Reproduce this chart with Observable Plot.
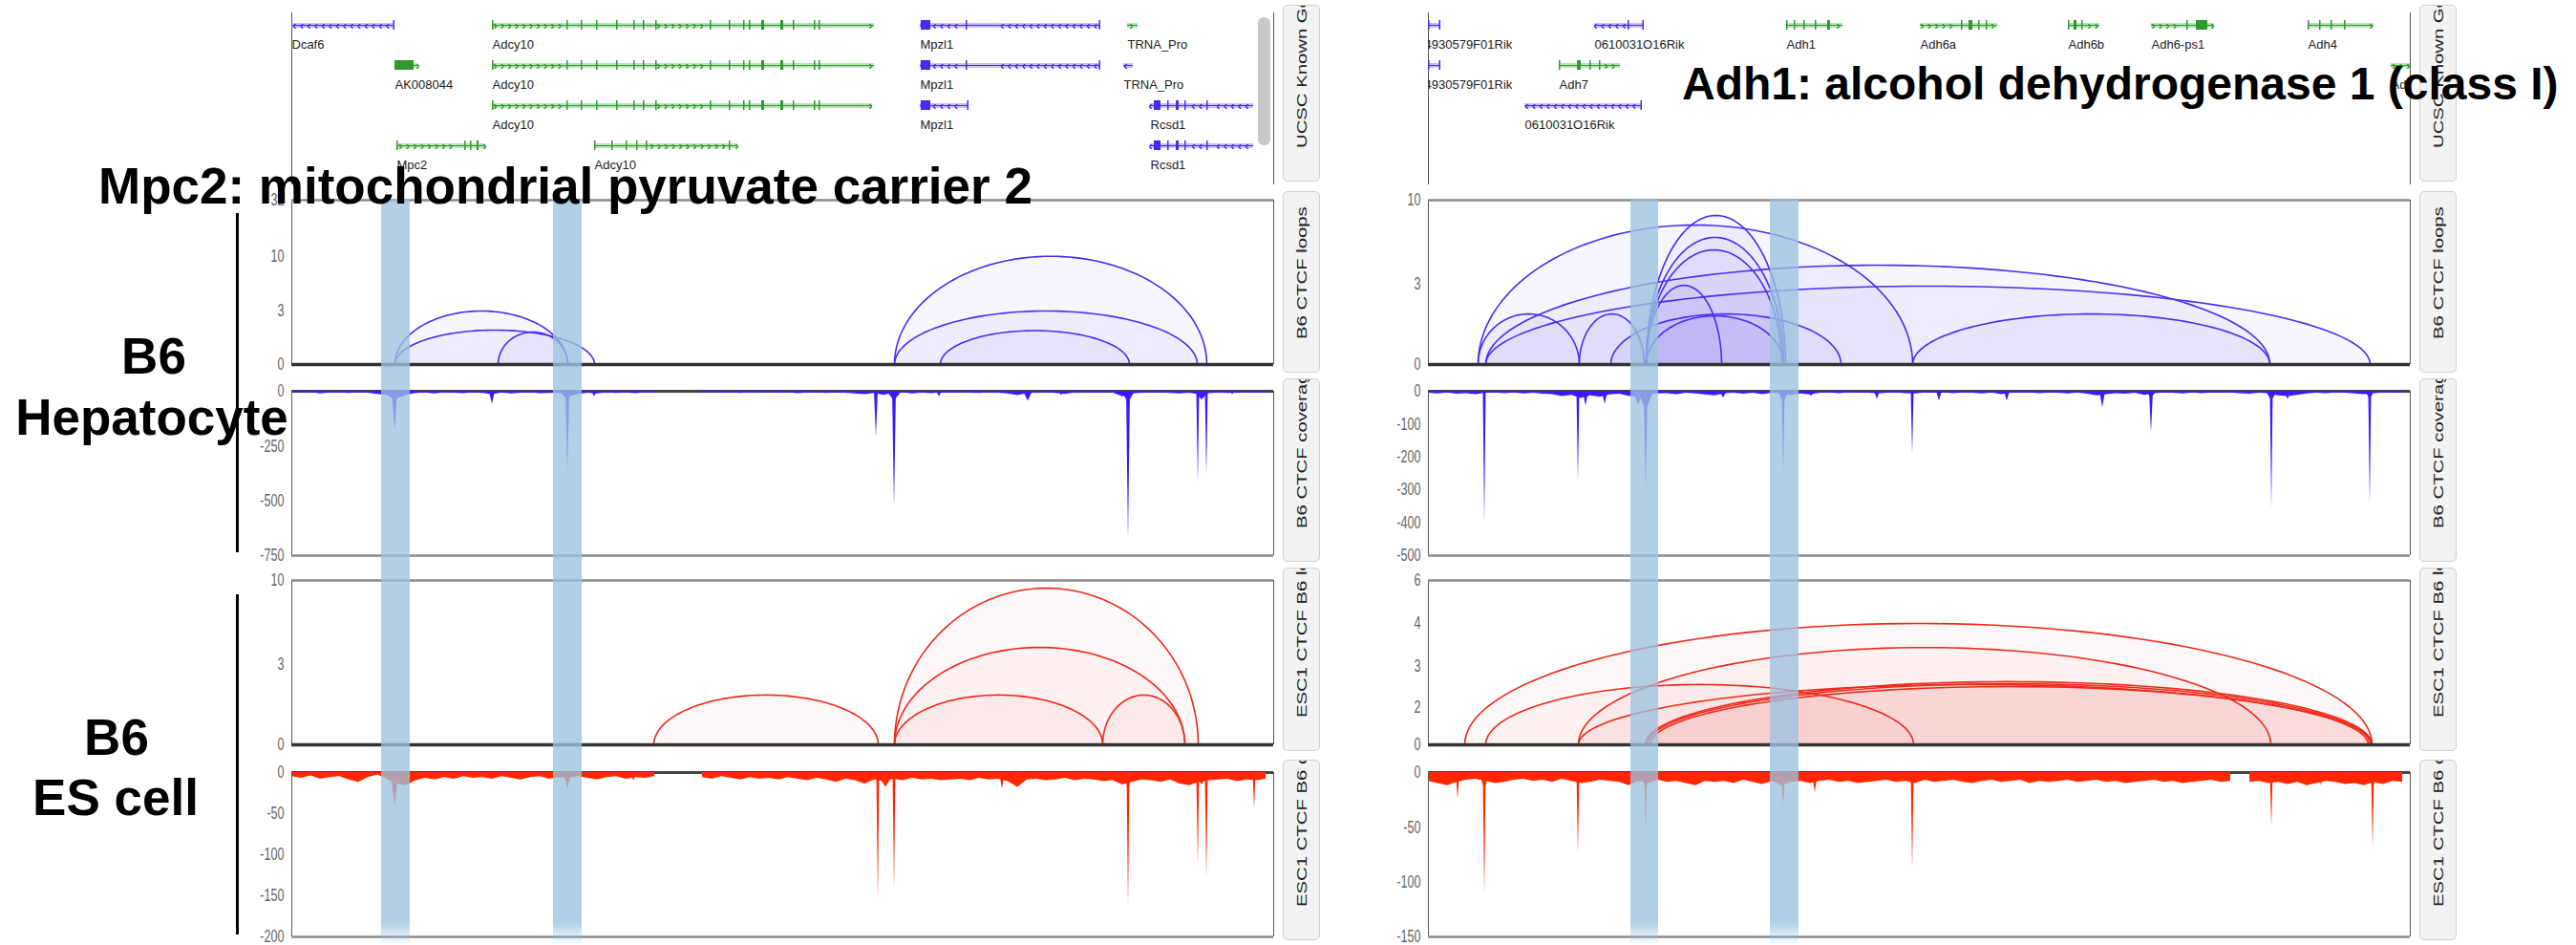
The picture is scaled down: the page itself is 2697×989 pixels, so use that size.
<!DOCTYPE html>
<html>
<head>
<meta charset="utf-8">
<script src="https://cdn.jsdelivr.net/npm/d3@7"></script>
<script src="https://cdn.jsdelivr.net/npm/@observablehq/plot@0.6"></script>
<style>
  html, body { margin: 0; padding: 0; background: #fff; }
  #fig { position: relative; width: 2697px; height: 989px; overflow: hidden; background: #fff;
         font-family: "Liberation Sans", Arial, sans-serif; }
  .tab { position: absolute; width: 37px; background: #f3f3f3; border: 1px solid #d0d0d0;
         border-radius: 5px; overflow: hidden; }
  .tab span { position: absolute; left: 12px; white-space: nowrap; font-size: 14px; line-height: 14px;
              color: #222; transform-origin: 0 0; }
  .bar { position: absolute; width: 3px; background: #000; }
  .thumb { position: absolute; background: #c9c9c9; border-radius: 6px; }
</style>
</head>
<body>
<div id="fig"></div>
<script>
// Window coordinates: each browser view spans 0..W position units.
const W = 1028;

// ---------- gene models ----------
const adcy10Exons = [[210,211.5],[288,289.5],[303,304.5],[319,320.5],[340,341.5],[358,359.5],[368,369.5],[381,382.5],
  [438,439.5],[458,459.5],[473,474.5],[479,480.5],[492,495],[512,515],[525,526.5],[547,548.5],[552,553.5]];
const adcy10Chevrons = [[213,282],[384,432],[606,606]];
const mpzl1Exons = [[659,669],[706,707.5],[845.5,847]];
const mpzl1Chevrons = [[660,660],[673,700],[744,842]];
const rcsd1Exons = [[903,910],[917,918.5],[926,929],[935,936.5],[958,959.5]];
const rcsd1Chevrons = [[899,899],[944,952],[970,1005]];

const leftGenes = [
  {name: "Dcaf6", start: 0, end: 108, row: 1, strand: "-", exons: [[106.5,108]], chevrons: [[3,102]]},
  {name: "Adcy10", start: 210, end: 610, row: 1, strand: "+", exons: adcy10Exons, chevrons: adcy10Chevrons},
  {name: "Mpzl1", start: 658, end: 847, row: 1, strand: "-", exons: mpzl1Exons, chevrons: mpzl1Chevrons},
  {name: "TRNA_Pro", start: 875, end: 886, row: 1, strand: "+", exons: [], chevrons: [[879,884]]},
  {name: "AK008044", start: 108, end: 132, row: 2, strand: "+", exons: [[108,128]], chevrons: [[132,132]]},
  {name: "Adcy10", start: 210, end: 610, row: 2, strand: "+", exons: adcy10Exons, chevrons: adcy10Chevrons},
  {name: "Mpzl1", start: 658, end: 847, row: 2, strand: "-", exons: mpzl1Exons, chevrons: mpzl1Chevrons},
  {name: "TRNA_Pro", start: 871, end: 881, row: 2, strand: "-", exons: [], chevrons: [[873,877]]},
  {name: "Adcy10", start: 210, end: 608, row: 3, strand: "+", exons: adcy10Exons, chevrons: adcy10Chevrons},
  {name: "Mpzl1", start: 658, end: 709, row: 3, strand: "-", exons: [[659,669],[707.5,709]], chevrons: [[660,660],[673,702]]},
  {name: "Rcsd1", start: 899, end: 1007, row: 3, strand: "-", exons: rcsd1Exons, chevrons: rcsd1Chevrons},
  {name: "Mpc2", start: 110, end: 203, row: 4, strand: "+", exons: [[110,111.5],[181,182.5],[187,188.5],[194,196]], chevrons: [[114,172],[202,202]]},
  {name: "Adcy10", start: 317, end: 467, row: 4, strand: "+", exons: [[317,318.5],[335,336.5],[350,351.5],[361,362.5],[371,372.5],[458,459.5]], chevrons: [[377,452],[466,466]]},
  {name: "Rcsd1", start: 899, end: 1007, row: 4, strand: "-", exons: rcsd1Exons, chevrons: rcsd1Chevrons}
];

// labelAt: where a label starts when the gene begins before the view
const rightGenes = [
  {name: "4930579F01Rik", start: 0, end: 13, labelAt: -4, row: 1, strand: "-", exons: [[0,1.5],[11.5,13]], chevrons: []},
  {name: "0610031O16Rik", start: 174, end: 226, row: 1, strand: "-", exons: [[209,210.5],[224.5,226]], chevrons: [[175,205]]},
  {name: "Adh1", start: 375, end: 434, row: 1, strand: "+", exons: [[375,376.5],[383,384.5],[393,394.5],[405,406.5],[418,421]], chevrons: [[429,433]]},
  {name: "Adh6a", start: 515, end: 596, row: 1, strand: "+", exons: [[558,559.5],[566,570],[576,577.5],[584,585.5]], chevrons: [[517,550],[591,596]]},
  {name: "Adh6b", start: 670, end: 703, row: 1, strand: "+", exons: [[670,671.5],[676,679],[684,685.5]], chevrons: [[692,702]]},
  {name: "Adh6-ps1", start: 757, end: 823, row: 1, strand: "+", exons: [[794,795.5],[804,816]], chevrons: [[759,786],[821,821]]},
  {name: "Adh4", start: 921, end: 990, row: 1, strand: "+", exons: [[921,922.5],[933,934.5],[945,946.5],[959,960.5]], chevrons: [[987,989]]},
  {name: "4930579F01Rik", start: 0, end: 13, labelAt: -4, row: 2, strand: "-", exons: [[0,1.5],[11.5,13]], chevrons: []},
  {name: "Adh7", start: 137, end: 201, row: 2, strand: "+", exons: [[137,138.5],[156,160],[169,170.5],[179,180.5]], chevrons: [[186,200]]},
  {name: "Adh5", start: 1008, end: 1028, row: 2, strand: "+", exons: [], chevrons: [[1011,1026]]},
  {name: "0610031O16Rik", start: 101, end: 224, row: 3, strand: "-", exons: [[222.5,224]], chevrons: [[103,219]]}
];

// ---------- CTCF loops: [anchor1, anchor2, score] ----------
const b6LoopsLeft = [[108,289,3.0],[108,317,1.93],[216,289,1.82],[631,958,10.1],[631,948,3.0],[679,877,1.9]];
const escLoopsLeft = [[379,614,1.86],[631,949,9.36],[631,935,4.43],[631,849,1.86],[849,935,1.86]];
const b6LoopsRight = [[52,507,7.93],[228,374,8.73],[228,372,6.9],[228,370,5.86],[60,881,4.59],[60,986,2.93],
  [52,158,1.89],[158,226,1.89],[228,307,2.96],[191,432,1.89],[228,372,1.82],[507,881,1.89]];
const escLoopsRight = [[38,988,4.0],[60,508,2.56],[157,882,3.44],[157,988,2.56],[227,988,2.63],[229,986,2.58],[232,984,2.51]];

// loop-score axes: tick values and the arc height (px above baseline) each one maps to
const b6LoopTicksLeft = [0, 3, 10, 32];
const b6LoopHeightsLeft = [0, 56, 113, 172];
const escLoopTicksLeft = [0, 3, 10];
const escLoopHeightsLeft = [0, 84, 172];
const b6LoopTicksRight = [0, 3, 10];
const b6LoopHeightsRight = [0, 84, 172];
const escLoopTicksRight = [0, 2, 3, 4, 6];
const escLoopHeightsRight = [0, 39, 82, 127, 172];

// ---------- CTCF coverage (depth per 10-unit bin; null = no data) ----------
const b6NoiseLeft = [6,9,5,12,8,6,10,7,9,14, 20,35,18,10,8,12,6,9,11,7, 10,15,8,12,9,7,11,10,8,25,
  14,9,12,7,10,8,11,6,9,null, null,null,null,8,6,9,7,10,5,8, 6,9,7,11,8,6,10,7,9,12,
  15,10,18,9,7,12,8,11,7,9, 6,8,10,7,9,12,20,11,8,6, 10,14,8,7,9,6,8,25,12,9,
  8,7,10,12,9,15,11,8,10,9, 7,9,8];
const escNoiseLeft = [5,7,4,8,6,5,9,12,6,3, 8,14,16,10,7,9,6,8,5,7, 6,8,5,7,9,6,5,8,6,7,
  5,7,9,6,5,8,6,7,5,null, null,null,null,6,8,5,7,9,6,8, 7,9,6,8,10,7,9,12,8,10,
  14,9,11,8,10,7,9,8,10,9, 8,10,7,9,8,11,18,9,8,10, 9,7,10,8,9,11,10,15,12,9,
  10,12,9,14,16,12,10,9,8,11, 9,10,8];
const b6NoiseRight = [6,8,5,9,7,10,6,5,7,5, 8,6,9,10,16,12,22,14,18,11, 9,15,18,11,8,7,10,6,8,11,
  14,7,6,9,6,10,6,7,12,8, 11,6,5,7,5,6,5,8,6,5, 7,8,5,6,5,7,5,6,8,5,
  10,6,5,5,7,5,6,8,5,9, 14,10,7,9,6,12,7,5,6,8, 5,7,5,6,5,7,9,6,7,14,
  16,12,8,6,7,5,6,8,10,7, 5,6,5];
const escNoiseRight = [8,10,12,9,7,6,8,10,9,7, 6,8,7,9,6,8,10,9,7,8, 9,12,8,10,7,9,8,10,12,8,
  9,8,10,7,9,11,8,12,9,8, 10,8,7,9,8,10,9,8,7,9, 8,10,7,9,8,7,9,10,8,7,
  9,8,7,10,8,9,8,7,9,8, 7,9,8,10,9,8,7,9,8,10, 9,8,7,9,8,null,9,8,10,9,
  11,9,12,10,8,9,11,10,12,9, 11,8,9];

// peaks: [position, depth, half-width]
const b6PeaksLeft = [[108,180,3],[108,45,10],[210,60,3],[289,370,2],[289,40,8],[317,25,3],[612,210,2],
  [631,530,2],[631,45,8],[678,25,3],[771,45,5],[806,20,3],[876,680,2],[876,55,7],[949,415,1.5],[958,385,1.5],[953,40,8],[985,15,3]];
const escPeaksLeft = [[108,41,4],[108,15,10],[289,20,4],[614,154,1.5],[631,140,1.5],[622,18,10],[744,20,3],
  [876,163,1.5],[876,20,6],[949,111,1.5],[958,131,1.5],[953,15,8],[1008,45,1.5],[358,10,4]];
const b6PeaksRight = [[59,399,1.5],[157,274,1.5],[165,45,3],[185,40,3],[228,299,2],[228,60,8],[220,40,6],[372,250,1.5],[372,35,6],
  [507,192,1.5],[606,30,3],[706,50,3],[757,128,2],[757,20,6],[883,358,1.5],[883,30,6],[900,25,4],[986,343,1.5],
  [986,25,5],[309,20,4],[401,15,4],[470,25,3],[535,30,3]];
const escPeaksRight = [[31,24,2],[59,113,1.5],[59,15,6],[157,74,1.5],[157,12,6],[228,54,1.5],[228,15,6],
  [372,30,2],[405,18,3],[507,89,1.5],[507,12,5],[883,50,1.5],[883,12,5],[989,69,1.5],[989,15,5],[935,12,3]];

const b6CovTicksLeft = [0, -250, -500, -750];
const escCovTicksLeft = [0, -50, -100, -150, -200];
const b6CovTicksRight = [0, -100, -200, -300, -400, -500];
const escCovTicksRight = [0, -50, -100, -150];

// highlighted anchor regions
const leftHighlights = [[94,124],[274,304]];
const rightHighlights = [[212,241],[358,388]];

const tabTexts = ["UCSC Known Genes", "B6 CTCF loops", "B6 CTCF coverage", "ESC1 CTCF B6 loops", "ESC1 CTCF B6 coverage"];

// ---------- styling ----------
const B6_ARC = "#4b2cf2", B6_COV = "#3f17ff", ESC_ARC = "#ee2a1a", ESC_COV = "#ff2600";
const GENE_GREEN = "#2f982f", GENE_BLUE = "#4a28f0";
const BAND_GREEN = "#86c886", BAND_BLUE = "#9a8cff";
const plotStyle = {background: "transparent", fontFamily: '"Liberation Sans", Arial, sans-serif', overflow: "visible"};
const FRAME = {width: 1086, marginLeft: 55, marginRight: 3};

function yAxis(ticks, format = d => String(d)) {
  return Plot.axisY({ticks, tickSize: 0, tickPadding: 8, fontSize: 18, color: "#666",
    tickFormat: format, label: null});
}

function geneTrack(genes) {
  const exons = genes.flatMap(g => g.exons.map(([s, e]) => ({s, e, row: g.row, strand: g.strand})));
  const chev = genes.flatMap(g => g.chevrons.flatMap(([a, b]) => {
    const out = [];
    for (let p = a; p <= b + 0.01; p += 7.5) out.push({x: p, row: g.row, strand: g.strand});
    return out;
  }));
  const col = d => d.strand === "+" ? GENE_GREEN : GENE_BLUE;
  return Plot.plot({
    ...FRAME, height: 188, marginTop: 8, marginBottom: 0, style: plotStyle,
    x: {domain: [0, W], axis: null},
    y: {domain: [1, 4], range: [21, 147], axis: null},
    color: {type: "identity"},
    marks: [
      Plot.ruleX([0, W], {stroke: "#555", strokeWidth: 1}),
      Plot.ruleY(genes, {x1: "start", x2: "end", y: "row", stroke: d => d.strand === "+" ? BAND_GREEN : BAND_BLUE,
        strokeWidth: 5, strokeOpacity: 0.55, clip: true}),
      Plot.ruleY(genes, {x1: "start", x2: "end", y: "row", stroke: col, strokeWidth: 1, clip: true}),
      Plot.rect(exons, {x1: "s", x2: "e", y1: d => d.row - 0.12, y2: d => d.row + 0.12, fill: col, clip: true}),
      Plot.text(chev, {x: "x", y: "row", text: d => d.strand === "+" ? "›" : "‹", fill: col,
        fontSize: 13, fontWeight: "bold", clip: true}),
      Plot.text(genes, {x: d => d.labelAt ?? d.start, y: "row", dy: 20, text: "name",
        textAnchor: "start", fontSize: 13, fill: "#222", clip: true, ariaLabel: "gene label"})
    ]
  });
}

// Arcs are half-ellipses; y is the arc height in px above the baseline,
// and the tick labels give the loop score at each height.
function loopTrack(loops, ticks, heights, color, fillOpacity) {
  const H = 187, mt = 9, mb = 6, top = heights[heights.length - 1];
  const hOf = d3.scaleLinear().domain(ticks).range(heights);
  const pts = [];
  loops.forEach(([s, e, score], id) => {
    const c = (s + e) / 2, hw = (e - s) / 2, peak = hOf(score);
    for (let k = 0; k <= 80; k++) {
      const t = Math.PI * k / 80;
      pts.push({id, x: c - hw * Math.cos(t), y: peak * Math.sin(t)});
    }
  });
  return Plot.plot({
    ...FRAME, height: H, marginTop: mt, marginBottom: mb, style: plotStyle,
    x: {domain: [0, W], axis: null},
    y: {domain: [0, top]},
    marks: [
      Plot.areaY(pts, {x: "x", y1: 0, y2: "y", z: "id", fill: color, fillOpacity}),
      Plot.line(pts, {x: "x", y: "y", z: "id", stroke: color, strokeWidth: 1.6}),
      Plot.ruleX([0, W], {stroke: "#5a5a5a", strokeWidth: 1}),
      Plot.ruleY([top], {stroke: "#8a8a8a", strokeWidth: 2.5}),
      Plot.ruleY([0], {stroke: "#333", strokeWidth: 3.5}),
      yAxis(heights, d => String(ticks[heights.indexOf(d)]))
    ]
  });
}

function coverageTrack(noise, peaks, ticks, color) {
  const min = ticks[ticks.length - 1];
  const noiseRows = noise.map((v, i) => ({x: i * 10, y: v == null ? NaN : -v}));
  const peakRows = peaks.flatMap(([p, d, hw], id) => [
    {id, x: p - hw, y: 0}, {id, x: p, y: -d}, {id, x: p + hw, y: 0}]);
  return Plot.plot({
    ...FRAME, height: 187, marginTop: 9, marginBottom: 6, style: plotStyle,
    x: {domain: [0, W], axis: null},
    y: {domain: [min, 0]},
    marks: [
      Plot.ruleY([0], {stroke: "#444", strokeWidth: 3}),
      Plot.areaY(noiseRows, {x: "x", y1: 0, y2: "y", fill: color, clip: true}),
      Plot.areaY(peakRows, {x: "x", y1: 0, y2: "y", z: "id", fill: color, clip: true}),
      Plot.ruleX([0, W], {stroke: "#5a5a5a", strokeWidth: 1}),
      Plot.ruleY([min], {stroke: "#8a8a8a", strokeWidth: 2.5}),
      yAxis(ticks)
    ]
  });
}

function highlightLayer(regions) {
  return Plot.plot({
    ...FRAME, height: 780, marginTop: 0, marginBottom: 0, style: plotStyle,
    x: {domain: [0, W], axis: null},
    marks: [Plot.barX(regions, {x1: d => d[0], x2: d => d[1], fill: "#9ec2de", fillOpacity: 0.78})]
  });
}

// ---------- layout ----------
const fig = document.getElementById("fig");
function place(el, left, top) {
  el.style.position = "absolute";
  el.style.left = left + "px";
  el.style.top = top + "px";
  fig.appendChild(el);
  return el;
}

const panels = [
  {left: 250, genes: leftGenes, highlights: leftHighlights,
   b6Loops: [b6LoopsLeft, b6LoopTicksLeft, b6LoopHeightsLeft], escLoops: [escLoopsLeft, escLoopTicksLeft, escLoopHeightsLeft],
   b6Cov: [b6NoiseLeft, b6PeaksLeft, b6CovTicksLeft], escCov: [escNoiseLeft, escPeaksLeft, escCovTicksLeft]},
  {left: 1440, genes: rightGenes, highlights: rightHighlights,
   b6Loops: [b6LoopsRight, b6LoopTicksRight, b6LoopHeightsRight], escLoops: [escLoopsRight, escLoopTicksRight, escLoopHeightsRight],
   b6Cov: [b6NoiseRight, b6PeaksRight, b6CovTicksRight], escCov: [escNoiseRight, escPeaksRight, escCovTicksRight]}
];

for (const p of panels) {
  place(geneTrack(p.genes), p.left, 5);
  place(loopTrack(...p.b6Loops, B6_ARC, 0.045), p.left, 200);
  place(coverageTrack(...p.b6Cov, B6_COV), p.left, 400);
  place(loopTrack(...p.escLoops, ESC_ARC, 0.03), p.left, 598);
  place(coverageTrack(...p.escCov, ESC_COV), p.left, 799);
  const hl = place(highlightLayer(p.highlights), p.left, 209);
  hl.style.pointerEvents = "none";
  hl.style.filter = "blur(0.7px)";
  hl.style.webkitMaskImage = hl.style.maskImage = "linear-gradient(to bottom, #000 0%, #000 97%, transparent 100%)";
}

// scrollbar thumb of the left gene track
const thumb = document.createElement("div");
thumb.className = "thumb";
Object.assign(thumb.style, {left: "1317px", top: "18px", width: "13px", height: "134px"});
fig.appendChild(thumb);

// track-name tabs
const tabSpans = [[5,190],[200,390],[396,588],[594,786],[795,984]];
for (const x of [1343, 2533]) {
  tabSpans.forEach(([t, b], i) => {
    const d = document.createElement("div");
    d.className = "tab";
    Object.assign(d.style, {left: x + "px", top: t + "px", height: (b - t - 2) + "px"});
    const s = document.createElement("span");
    s.textContent = tabTexts[i];
    s.style.top = (b - t - 36) + "px";
    s.style.transform = "rotate(-90deg) scaleX(1.45)";
    d.appendChild(s);
    fig.appendChild(d);
  });
}

// group brackets
for (const [top, h] of [[223, 355], [622, 356]]) {
  const d = document.createElement("div");
  d.className = "bar";
  Object.assign(d.style, {left: "247px", top: top + "px", height: h + "px"});
  fig.appendChild(d);
}

// narrow browser-style lettering for tick and gene labels
function condense(sel, k) {
  fig.querySelectorAll(sel).forEach(t => {
    const w = t.getComputedTextLength();
    if (w > 0) {
      t.setAttribute("textLength", (w * k).toFixed(1));
      t.setAttribute("lengthAdjust", "spacingAndGlyphs");
    }
  });
}
condense('g[aria-label="y-axis tick label"] text', 0.7);
condense('g[aria-label="gene label"] text', 0.9);

// titles and cell-type labels
const ov = d3.select(fig).append("svg")
  .attr("width", 2697).attr("height", 989)
  .style("position", "absolute").style("left", 0).style("top", 0).style("pointer-events", "none")
  .attr("font-family", '"Liberation Sans", Arial, sans-serif').attr("font-weight", "bold").attr("fill", "#000");
const labels = [
  {text: "Mpc2: mitochondrial pyruvate carrier 2", x: 103, y: 213, size: 53, anchor: "start"},
  {text: "Adh1: alcohol dehydrogenase 1 (class I)", x: 1761, y: 104, size: 48, anchor: "start"},
  {text: "B6", x: 161, y: 391, size: 53, anchor: "middle"},
  {text: "Hepatocyte", x: 159, y: 455, size: 53, anchor: "middle"},
  {text: "B6", x: 122, y: 790, size: 53, anchor: "middle"},
  {text: "ES cell", x: 121, y: 853, size: 53, anchor: "middle"}
];
ov.selectAll("text").data(labels).join("text")
  .attr("x", d => d.x).attr("y", d => d.y).attr("font-size", d => d.size)
  .attr("text-anchor", d => d.anchor).text(d => d.text);
</script>
</body>
</html>
